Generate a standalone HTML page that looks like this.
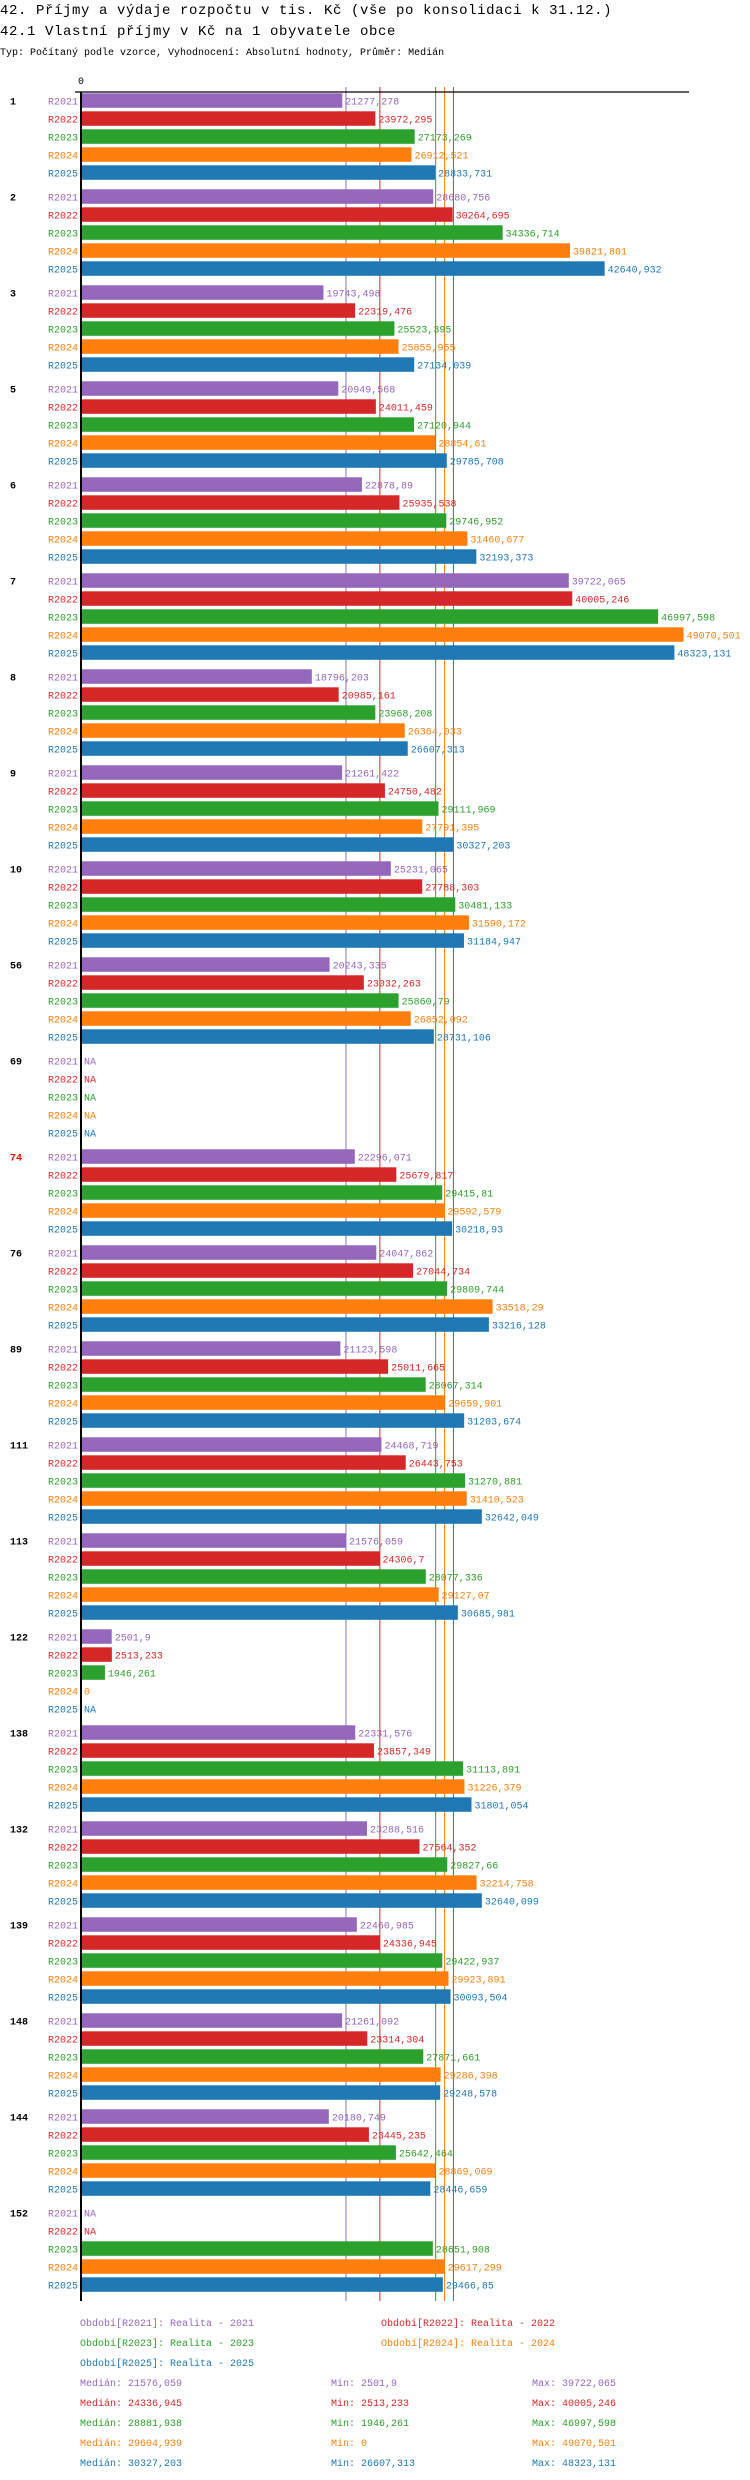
<!DOCTYPE html>
<html><head><meta charset="utf-8"><style>
html,body{margin:0;padding:0;background:#fff;width:750px;height:2480px;overflow:hidden}
svg text{font-family:"Liberation Mono","DejaVu Sans Mono",monospace}
</style></head><body>
<svg id="chart" width="750" height="2480" xmlns="http://www.w3.org/2000/svg">
<text x="0" y="14" font-size="14" letter-spacing="0.6" fill="#000">42. Příjmy a výdaje rozpočtu v tis. Kč (vše po konsolidaci k 31.12.)</text>
<text x="0" y="35" font-size="14" letter-spacing="0.6" fill="#000">42.1 Vlastní příjmy v Kč na 1 obyvatele obce</text>
<text x="0" y="55" font-size="10" fill="#000">Typ: Počítaný podle vzorce, Vyhodnocení: Absolutní hodnoty, Průměr: Medián</text>
<g id="lines"></g><g id="bars"></g><g id="legend"></g>
</svg>
<script>
const groups = ["1","2","3","5","6","7","8","9","10","56","69","74","76","89","111","113","122","138","132","139","148","144","152"];
const series = ["R2021","R2022","R2023","R2024","R2025"];
const r2021 = [21277.278,28680.756,19743.498,20949.568,22878.89,39722.065,18796.203,21261.422,25231.065,20243.335,null,22296.071,24047.862,21123.598,24468.719,21576.059,2501.9,22331.576,23288.516,22460.985,21261.092,20180.749,null];
const r2022 = [23972.295,30264.695,22319.476,24011.459,25935.538,40005.246,20985.161,24750.482,27788.303,23032.263,null,25679.817,27044.734,25011.665,26443.753,24306.7,2513.233,23857.349,27564.352,24336.945,23314.304,23445.235,null];
const r2023 = [27173.269,34336.714,25523.395,27120.944,29746.952,46997.598,23968.208,29111.969,30481.133,25860.79,null,29415.81,29809.744,28067.314,31270.881,28077.336,1946.261,31113.891,29827.66,29422.937,27871.661,25642.464,28651.908];
const r2024 = [26912.521,39821.801,25855.955,28854.61,31460.677,49070.501,26364.033,27791.395,31590.172,26852.092,null,29592.579,33518.29,29659.901,31410.523,29127.07,0,31226.379,32214.758,29923.891,29286.398,28869.069,29617.299];
const r2025 = [28833.731,42640.932,27134.039,29785.708,32193.373,48323.131,26607.313,30327.203,31184.947,28731.106,null,30218.93,33216.128,31203.674,32642.049,30685.981,null,31801.054,32640.099,30093.504,29248.578,28446.659,29466.85];
const medians = [21576.059,24336.945,28881.938,29604.939,30327.203];
const mins = [2501.9,2513.233,1946.261,0,26607.313];
const maxs = [39722.065,40005.246,46997.598,49070.501,48323.131];
const legendLabels = ["Období[R2021]: Realita - 2021","Období[R2022]: Realita - 2022","Období[R2023]: Realita - 2023","Období[R2024]: Realita - 2024","Období[R2025]: Realita - 2025"];
const highlightGroup = "74";

const colors = ["#9467bd","#d62728","#2ca02c","#ff7f0e","#1f77b4"];
const allSeries = [r2021,r2022,r2023,r2024,r2025];
const NS = "http://www.w3.org/2000/svg";
const X0 = 81, K = 0.01228;
const xs = v => X0 + v*K;
const groupY = g => 93.3 + g*96;
const barY = (g,i) => groupY(g) + i*18;
const fmt = v => String(v).replace('.',',');
function mk(tag, attrs, parent){const e=document.createElementNS(NS,tag);for(const k in attrs)e.setAttribute(k,attrs[k]);parent.appendChild(e);return e;}
const L = document.getElementById('lines'), B = document.getElementById('bars'), G = document.getElementById('legend');
const yEnd = 2301;

const zero = mk('text',{x:X0,y:84,'font-size':10,'text-anchor':'middle',fill:'#000'},B);


zero.textContent='0';

medians.forEach((m,i)=>{
  const ln = mk('line',{x1:xs(m),x2:xs(m),y1:87,y2:yEnd,stroke:colors[i],'stroke-width':1},L);
  
  
});

groups.forEach((gname,g)=>{
  const gl = mk('text',{x:10,y:groupY(g)+11,'font-size':10,'font-weight':'bold',fill:gname===highlightGroup?'#f00':'#000'},B);
  
  
  gl.textContent=gname;
  series.forEach((s,i)=>{
    const v = allSeries[i][g];
    const y = barY(g,i);
    const sl = mk('text',{x:78,y:y+11,'font-size':10,'text-anchor':'end',fill:colors[i]},B);
    
    
    sl.textContent=s;
    let endX = X0+3;
    if(v!==null && v>0){
      const r = mk('rect',{x:X0,y:y,width:xs(v)-X0,height:14.5,fill:colors[i]},B);
      
      
      endX = xs(v)+3;
    }
    const vl = mk('text',{x:endX,y:y+11,'font-size':10,fill:colors[i]},B);
    
    
    vl.textContent = v===null?'NA':fmt(v);
  });
});

const ax = mk('line',{x1:X0,x2:X0,y1:92,y2:yEnd,stroke:'#000','stroke-width':2},B);


const hx = mk('line',{x1:75,x2:689,y1:92,y2:92,stroke:'#000','stroke-width':1.3},B);



legendLabels.forEach((t,i)=>{
  const col = i%2, row = Math.floor(i/2);
  const e = mk('text',{x:col?381:80,y:2326+row*20,'font-size':10,fill:colors[i]},G);
  
  
  e.textContent=t;
});
series.forEach((s,i)=>{
  const y = 2386+i*20;
  const a = mk('text',{x:80,y:y,'font-size':10,fill:colors[i]},G);
  
  
  a.textContent='Medián: '+fmt(medians[i]);
  const b = mk('text',{x:331,y:y,'font-size':10,fill:colors[i]},G);
  
  
  b.textContent='Min: '+fmt(mins[i]);
  const c = mk('text',{x:532,y:y,'font-size':10,fill:colors[i]},G);
  
  
  c.textContent='Max: '+fmt(maxs[i]);
});
</script>
</body></html>
